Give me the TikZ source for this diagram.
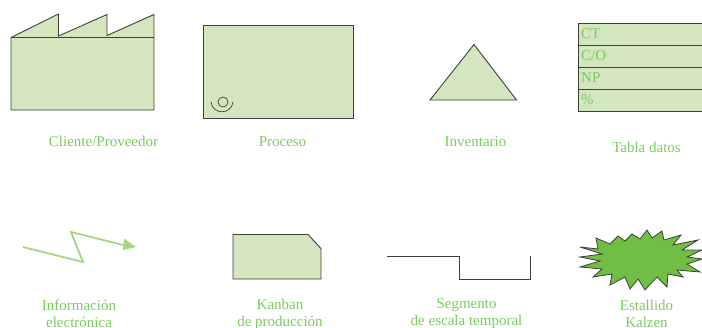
\documentclass[tikz,border=0pt]{standalone}
\usepackage{fontspec}
\setmainfont{Liberation Serif}
\definecolor{fillg}{HTML}{D3E6BF}
\definecolor{textg}{HTML}{78CC5E}
\definecolor{linek}{HTML}{3C4238}
\definecolor{arrowg}{HTML}{A3D585}
\definecolor{burstg}{HTML}{70BF44}
\tikzset{
 sym/.style={draw=linek,fill=fillg,line width=0.9pt,line join=miter},
 lab/.style={text=textg,font=\fontsize{15}{17}\selectfont,align=center,inner sep=0pt,anchor=center},
 cell/.style={text=textg,font=\fontsize{15}{16}\selectfont,inner sep=0pt,anchor=west}
}
\begin{document}
\begin{tikzpicture}[x=1pt,y=-1pt]
\useasboundingbox (0,0) rectangle (702,327);
% factory
\draw[sym] (11,37.5) -- (58.5,14) -- (58.5,36) -- (107,14.5) -- (107,35.5) -- (154,14.5) -- (154,110) -- (11,110) -- cycle;
\draw[linek,line width=0.9pt] (11,37.5) -- (154,37.5);
\node[lab] (c1) at (103.5,141.5) {Cliente/Proveedor};
% process
\draw[sym] (203.5,25.5) rectangle (353,118);
\draw[linek,line width=0.7pt] (223,102) circle (5);
\draw[linek,line width=0.7pt] (211,102) .. controls (212.5,115) and (231.5,115) .. (233,102);
\node[lab] (c2) at (282.5,141.5) {Proceso};
% inventory
\draw[sym] (474,44.5) -- (516.5,100) -- (430,100) -- cycle;
\node[lab] (c3) at (475.5,141.5) {Inventario};
% table
\fill[fillg] (578,23) rectangle (702,111.5);
\draw[linek,line width=0.9pt] (702,23) -- (578,23) -- (578,111.5) -- (702,111.5);
\draw[linek,line width=0.9pt] (578,45) -- (702,45) (578,67) -- (702,67) (578,89) -- (702,89);
\node[cell] at (581,34) {CT};
\node[cell] at (581,55.5) {C/O};
\node[cell] at (581,78) {NP};
\node[cell] at (581,99.5) {\%};
\node[lab] (c4) at (646.5,147) {Tabla datos};
% arrow
\coordinate (z1) at (23,247);
\coordinate (z2) at (83,262);
\coordinate (z3) at (71,232);
\coordinate (z4) at (125,245.5);
\draw[arrowg,line width=1.8pt] (z1) -- (z2) -- (z3) -- (z4);
\fill[arrowg] (136,247) -- (124,238.5) -- (123,250) -- cycle;
\node[lab] (c5) at (79,314) {Información\\electrónica};
% kanban
\draw[sym] (233,234.5) -- (308,234.5) -- (321,248.5) -- (321,279) -- (233,279) -- cycle;
\node[lab] (c6) at (280,314) {Kanban\\de producción};
% timeline
\draw[draw=linek,line width=0.8pt] (387,256.5) -- (459.5,256.5) -- (459.5,279) -- (530,279) -- (530,256);
\node[lab] (c7) at (466.5,314) {Segmento\\de escala temporal};
% burst
\draw[draw=linek,fill=burstg,line width=0.8pt] (580,247) -- (598,249) -- (596,238) -- (610,244) -- (618,236) -- (625,241) -- (632,234) -- (640,239) -- (647,230) -- (652,238) -- (662,231) -- (664,240) -- (681,235) -- (673,245) -- (698,240) -- (682,250) -- (702,250) -- (687,257) -- (702,259) -- (687,264) -- (700,272) -- (677,270) -- (683,277) -- (668,274) -- (667,287) -- (657,277) -- (645,290) -- (638,279) -- (630,289) -- (625,277) -- (610,285) -- (612,274) -- (593,277) -- (602,269) -- (580,267) -- (600,261) -- (580,257) -- (602,254) -- cycle;
\node[lab] (c8) at (646.5,314) {Estallido\\Kalzen};
\end{tikzpicture}
\end{document}
